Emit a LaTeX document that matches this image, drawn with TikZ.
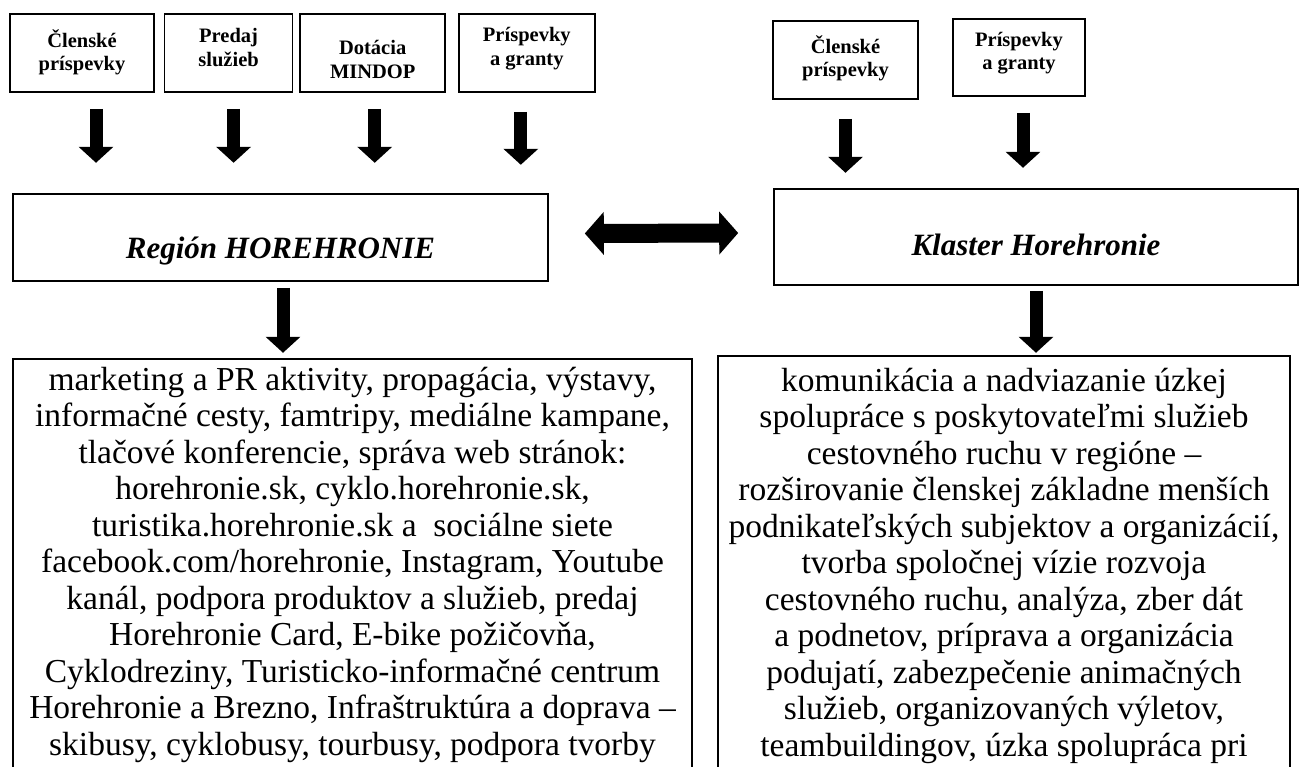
\documentclass[tikz,border=0pt]{standalone}
\usepackage{fontspec}
\setmainfont{Liberation Serif}
\usetikzlibrary{arrows.meta,positioning}

% text zdroja, posunuty zvislo o #1
\newcommand{\srctext}[2]{\raisebox{#1}[0pt][0pt]{\begin{tabular}{@{}c@{}}#2\end{tabular}}}

\begin{document}
\begin{tikzpicture}[x=1pt,y=1pt,node distance=9pt,line width=1.6pt]
\tikzstyle{srcbox}=[draw,rectangle,minimum height=78pt,inner sep=2pt,font=\bfseries\fontsize{20.5}{23.5}\selectfont]
\tikzstyle{orgbox}=[draw,rectangle,text depth=0pt,font=\bfseries\itshape\fontsize{31}{36}\selectfont]
\tikzstyle{listbox}=[draw,rectangle,anchor=north,minimum height=460pt]
\tikzstyle{listtext}=[anchor=north,align=center,inner sep=0pt,font=\fontsize{33.5}{36.5}\selectfont]
\tikzstyle{blockarrow}=[line width=13pt,-{Triangle[width=34pt,length=16pt]}]
\tikzstyle{botharrow}=[line width=19pt,{Triangle[width=42pt,length=19pt]}-{Triangle[width=42pt,length=19pt]}]

\useasboundingbox (0,0) rectangle (1303,767);
\clip (0,0) rectangle (1303,767);

% zdroje regionu
\node[srcbox,minimum width=144pt] (clen1) at (82,714) {\srctext{-6pt}{Členské\\príspevky}};
\node[srcbox,minimum width=128pt] [right=9pt of clen1] (predaj) {\srctext{-2pt}{Predaj\\služieb}};
\node[srcbox,minimum width=145pt] [right=6pt of predaj] (dotacia) {\srctext{-14pt}{Dotácia\\MINDOP}};
\node[srcbox,minimum width=136pt] [right=12pt of dotacia] (prisp1) {\srctext{-1pt}{Príspevky\\a granty}};

% zdroje klastra
\node[srcbox,minimum width=145pt] (clen2) at (845.5,707) {\srctext{-5pt}{Členské\\príspevky}};
\node[srcbox,minimum width=132pt,minimum height=77pt] (prisp2) at (1019,709.5) {\srctext{-1pt}{Príspevky\\a granty}};

% organizacie
\node[orgbox,minimum width=535pt,minimum height=87pt,text height=43pt] (region) at (280.5,529.5) {Región HOREHRONIE};
\node[orgbox,minimum width=524pt,minimum height=96pt,text height=38pt] (klaster) at (1036,530) {Klaster Horehronie};

% aktivity
\node[listbox,minimum width=679pt] (regbox) at (352.5,409) {};
\node[listtext] (regtext) at ([yshift=-8pt]regbox.north) {marketing a PR aktivity, propagácia, výstavy,\\
informačné cesty, famtripy, mediálne kampane,\\
tlačové konferencie, správa web stránok:\\
horehronie.sk, cyklo.horehronie.sk,\\
turistika.horehronie.sk a\ \ sociálne siete\\
facebook.com/horehronie, Instagram, Youtube\\
kanál, podpora produktov a služieb, predaj\\
Horehronie Card, E-bike požičovňa,\\
Cyklodreziny, Turisticko-informačné centrum\\
Horehronie a Brezno, Infraštruktúra a doprava --\\
skibusy, cyklobusy, tourbusy, podpora tvorby};

\node[listbox,minimum width=572pt] (klasbox) at (1004,412) {};
\node[listtext] (klastext) at ([yshift=-12pt]klasbox.north) {komunikácia a nadviazanie úzkej\\
spolupráce s poskytovateľmi služieb\\
cestovného ruchu v regióne --\\
rozširovanie členskej základne menších\\
podnikateľských subjektov a organizácií,\\
tvorba spoločnej vízie rozvoja\\
cestovného ruchu, analýza, zber dát\\
a podnetov, príprava a organizácia\\
podujatí, zabezpečenie animačných\\
služieb, organizovaných výletov,\\
teambuildingov, úzka spolupráca pri};

% sipky
\draw[blockarrow] ([xshift=14pt,yshift=-16pt]clen1.south) -- ([xshift=14pt,yshift=-70pt]clen1.south);
\draw[blockarrow] ([xshift=5pt,yshift=-16pt]predaj.south) -- ([xshift=5pt,yshift=-70pt]predaj.south);
\draw[blockarrow] ([xshift=2pt,yshift=-16pt]dotacia.south) -- ([xshift=2pt,yshift=-70pt]dotacia.south);
\draw[blockarrow] ([xshift=-6pt,yshift=-19pt]prisp1.south) -- ([xshift=-6pt,yshift=-72pt]prisp1.south);
\draw[blockarrow] ([xshift=0pt,yshift=-19pt]clen2.south) -- ([xshift=0pt,yshift=-73pt]clen2.south);
\draw[blockarrow] ([xshift=4pt,yshift=-16pt]prisp2.south) -- ([xshift=4pt,yshift=-71pt]prisp2.south);
\draw[botharrow] ([xshift=36pt,yshift=4pt]region.east) -- ([xshift=-35pt,yshift=4pt]klaster.west);
\draw[blockarrow] ([xshift=2.5pt,yshift=-6pt]region.south) -- ([xshift=2.5pt,yshift=-71pt]region.south);
\draw[blockarrow] ([yshift=-5pt]klaster.south) -- ([yshift=-67pt]klaster.south);
\end{tikzpicture}
\end{document}
